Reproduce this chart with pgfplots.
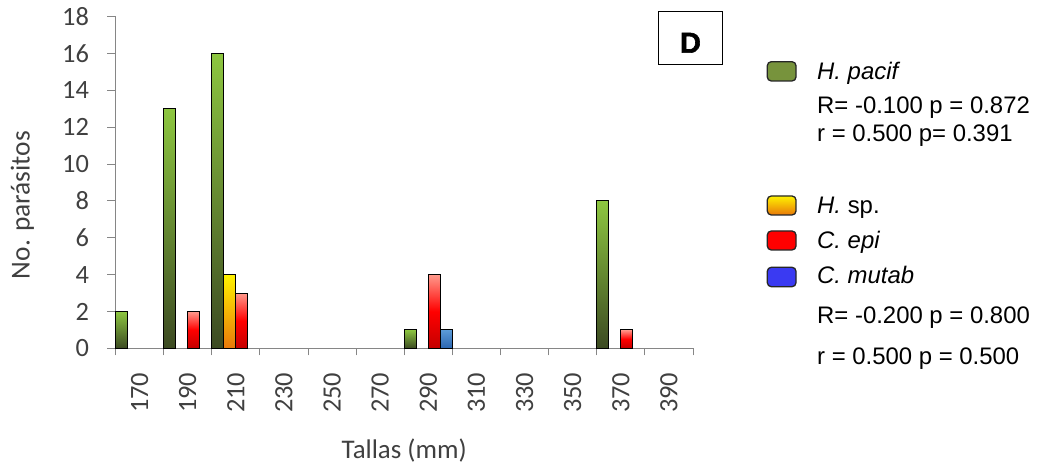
\documentclass[border=0pt]{standalone}
\usepackage{fontspec}
\setmainfont{Carlito}
\newfontfamily\arial{Liberation Sans}
\newfontfamily\heavy[FakeBold=2]{Liberation Sans Bold}
\usepackage{pgfplots}
\pgfplotsset{compat=1.18}
\definecolor{axgray}{HTML}{868686}
\definecolor{txt}{HTML}{404040}
\definecolor{gtop}{HTML}{8DC640}
\definecolor{gbot}{HTML}{3C4A22}
\definecolor{ytop}{HTML}{FFF200}
\definecolor{ybot}{HTML}{E8780A}
\definecolor{rtop}{HTML}{FF9A8C}
\definecolor{rmid}{HTML}{FF0000}
\definecolor{rbot}{HTML}{C40000}
\definecolor{btop}{HTML}{5B9BD8}
\definecolor{bbot}{HTML}{2C66B0}
\definecolor{keygreen}{HTML}{77933C}
\definecolor{keyblue}{HTML}{3A3AF2}
\begin{document}
\begin{tikzpicture}[x=1bp,y=1bp]
\path[use as bounding box] (0,0) rectangle (1037,466);
\begin{axis}[
  at={(115.5bp,117.7bp)}, anchor=south west,
  scale only axis, width=577.5bp, height=331.6bp,
  xmin=-0.5, xmax=11.5, ymin=0, ymax=18,
  ytick={0,2,...,18},
  xtick={0,...,11},
  xticklabels={170,190,210,230,250,270,290,310,330,350,370,390},
  minor xtick={-0.5,0.5,...,11.5},
  axis lines*=left,
  axis line style={draw=axgray, line width=1bp},
  tick align=outside,
  major tick length=8bp, minor tick length=7bp,
  major x tick style={draw=none},
  minor x tick style={draw=axgray, line width=1bp},
  major y tick style={draw=axgray, line width=1bp},
  /pgf/number format/assume math mode=true,
  tick label style={font=\fontsize{26.5}{30}\selectfont, text=txt},
  yticklabel style={xshift=-15bp},
  xticklabel style={rotate=90, anchor=east, xshift=-13bp},
  ylabel={No. parásitos},
  ylabel style={at={(axis description cs:-0.161,0.432)}, anchor=center, font=\fontsize{27.5}{30}\selectfont, text=txt},
  xlabel={Tallas (mm)},
  xlabel style={at={(axis description cs:0.5,-0.331)}, anchor=base, font=\fontsize{27}{30}\selectfont, text=txt},
  clip=false,
  every axis plot/.append style={ybar, bar width=0.25, draw=black, line width=1bp},
]
% H. pacif (green), slot 0
\addplot[bar shift=-0.375, top color=gtop, bottom color=gbot] coordinates {(0,2)};
\addplot[bar shift=-0.375, top color=gtop, bottom color=gbot] coordinates {(1,13)};
\addplot[bar shift=-0.375, top color=gtop, bottom color=gbot] coordinates {(2,16)};
\addplot[bar shift=-0.375, top color=gtop, bottom color=gbot] coordinates {(6,1)};
\addplot[bar shift=-0.375, top color=gtop, bottom color=gbot] coordinates {(10,8)};
% H. sp. (yellow), slot 1
\addplot[bar shift=-0.125, top color=ytop, bottom color=ybot] coordinates {(2,4)};
% C. epi (red), slot 2
\addplot[bar shift=0.125, top color=rtop, bottom color=rbot, middle color=rmid] coordinates {(1,2)};
\addplot[bar shift=0.125, top color=rtop, bottom color=rbot, middle color=rmid] coordinates {(2,3)};
\addplot[bar shift=0.125, top color=rtop, bottom color=rbot, middle color=rmid] coordinates {(6,4)};
\addplot[bar shift=0.125, top color=rtop, bottom color=rbot, middle color=rmid] coordinates {(10,1)};
% C. mutab (blue), slot 3
\addplot[bar shift=0.375, top color=btop, bottom color=bbot] coordinates {(6,1)};
\end{axis}
% panel letter
\draw[line width=1.5bp] (658.3,401.7) rectangle (722.7,454.3);
\node[anchor=base, inner sep=0] at (690.5,413.3) {\heavy\fontsize{29}{30}\selectfont D};
% legend keys
\draw[line width=1.3bp, draw=black!85, fill=keygreen, rounded corners=4bp] (767.3,385) rectangle (796,404.3);
\draw[line width=1.3bp, draw=black!85, top color=ytop, bottom color=ybot, rounded corners=4bp] (767.3,251) rectangle (796,270);
\draw[line width=1.3bp, draw=black!85, fill=red, rounded corners=4bp] (767.3,216) rectangle (796,235);
\draw[line width=1.3bp, draw=black!85, fill=keyblue, rounded corners=4bp] (767.3,179.3) rectangle (796,198.7);
% legend texts
\begin{scope}[every node/.style={anchor=base west, inner sep=0, font=\arial\fontsize{24}{28}\selectfont}]
\node at (817,386) {\itshape H. pacif};
\node at (817,352.7) {R= -0.100 p = 0.872};
\node at (817,324.3) {r = 0.500 p= 0.391};
\node at (817,252.7) {\textit{H.} sp.};
\node at (817,217.7) {\itshape C. epi};
\node at (817,182) {\itshape C. mutab};
\node at (817,142.7) {R= -0.200 p = 0.800};
\node at (817,101) {r = 0.500 p = 0.500};
\end{scope}
\end{tikzpicture}
\end{document}
